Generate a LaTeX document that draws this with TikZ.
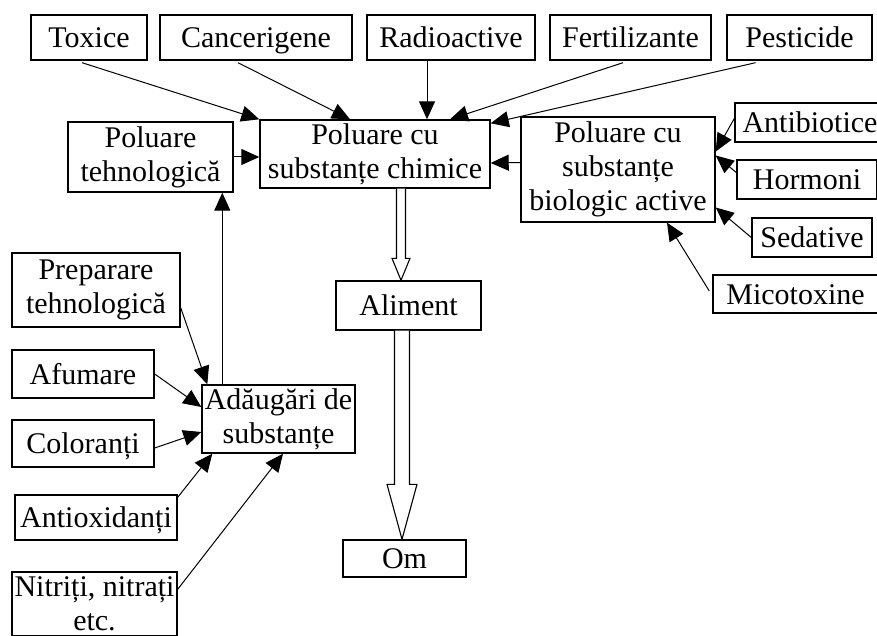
\documentclass[tikz,border=0pt]{standalone}
\usepackage{fontspec}
\setmainfont{Liberation Serif}
\usetikzlibrary{positioning, arrows.meta, calc}
% open block arrow: top, tip, half shaft, half head, head length
\newcommand{\hollowarrow}[5]{\draw[line width=1.1pt, fill=white] ($(#1)+(-#3,0)$) -- ($(#2)+(-#3,-#5)$) -- ($(#2)+(-#4,-#5)$) -- (#2) -- ($(#2)+(#4,-#5)$) -- ($(#2)+(#3,-#5)$) -- ($(#1)+(#3,0)$);}

\begin{document}
\begin{tikzpicture}[x=1pt, y=-1pt, font=\fontsize{30}{34}\selectfont,
                    box/.style={shape=rectangle, draw, line width=1.4pt, inner sep=0pt, align=center},
                    one/.style={box, text height=26pt, text depth=6pt},
                    arr/.style={line width=1pt, -{Triangle[length=18pt, width=16pt]}}]
        \clip (0,0) rectangle (877,636);
        \fill[white] (0,0) rectangle (877,636);
        % sources on top
        \node[one, minimum width=116, minimum height=45] (tox) at (89,37.5) {Toxice};
        \node[one, minimum width=192, minimum height=45] (canc) at (256,37.5) {Cancerigene};
        \node[one, minimum width=168, minimum height=45] (radio) at (451,37.5) {Radioactive};
        \node[one, minimum width=161, minimum height=45] (fert) at (630.5,37.5) {Fertilizante};
        \node[one, minimum width=145, minimum height=45] (pest) at (799.5,37.5) {Pesticide};
        % middle row
        \node[box, minimum width=165, minimum height=70] (tehn) at (150.5,157) {Poluare\\tehnologică};
        \node[box, minimum width=230, minimum height=68] (chim) at (375,154) {Poluare cu\\substanțe chimice};
        \node[box, minimum width=194, minimum height=105] (bio) at (618,169.5) {Poluare cu\\substanțe\\biologic active};
        \node[one, minimum width=150, minimum height=39] (antib) at (810,122.5) {Antibiotice};
        \node[one, minimum width=140, minimum height=39] (horm) at (807,179.5) {Hormoni};
        \node[one, minimum width=120, minimum height=39] (sed) at (812,237.5) {Sedative};
        \node[one, minimum width=165, minimum height=38] (mico) at (795.5,294) {Micotoxine};
        % food chain
        \node[one, minimum width=145, minimum height=49] (alim) at (408.5,305.5) {Aliment};
        \node[one, minimum width=123, minimum height=37] (om) at (404.5,558.5) {Om};
        % additives
        \node[box, minimum width=168, minimum height=74] (prep) at (96,290) {Preparare\\tehnologică};
        \node[one, minimum width=142, minimum height=48] (afum) at (83,374) {Afumare};
        \node[one, minimum width=142, minimum height=47] (color) at (83,443.5) {Coloranți};
        \node[one, minimum width=162, minimum height=45] (antiox) at (96,517.5) {Antioxidanți};
        \node[box, minimum width=165, minimum height=64] (nitr) at (94.5,604) {Nitriți, nitrați\\etc.};
        \node[box, minimum width=153, minimum height=68] (adau) at (278.5,419) {Adăugări de\\substanțe};

        \draw[arr] ($(tox.south)+(-7,2)$) -- (chim.north west);
        \draw[arr] ($(canc.south)+(-18,2)$) -- ($(chim.north)+(-25,0)$);
        \draw[arr] ($(radio.south)+(-24,0)$) -- ($(chim.north)+(52,0)$);
        \draw[arr] ($(fert.south)+(-7.5,2)$) -- ($(chim.north)+(75,0)$);
        \draw[arr] ($(pest.south)+(-44,2)$) -- ($(chim.north east)+(0,4)$);
        \draw[arr] (tehn.east) -- (tehn.east -| chim.west);
        \draw[arr] ($(bio.west)+(0,-7)$) -- ($(chim.east)+(0,9)$);

        \draw[arr] ($(antib.west)+(0,-4)$) -- ($(bio.east)+(0,-18)$);
        \draw[arr] ($(horm.west)+(0,-7)$) -- ($(bio.east)+(0,-14)$);
        \draw[arr] (sed.west) -- ($(bio.east)+(0,38)$);
        \draw[arr] ($(mico.west)+(-3,-3)$) -- ($(bio.south)+(49,0)$);

        \coordinate (up) at ($(adau.north west)+(21,0)$);
        \draw[arr] (up) -- (up |- tehn.south);
        \draw[arr] ($(prep.south east)+(0,-20)$) -- ($(adau.north west)+(6,0)$);
        \draw[arr] (afum.east) -- ($(adau.west)+(0,-12)$);
        \draw[arr] ($(color.east)+(0,4.5)$) -- ($(adau.west)+(0,13)$);
        \draw[arr] ($(antiox.north east)+(0,3)$) -- ($(adau.south west)+(11,0)$);
        \draw[arr] ($(nitr.north east)+(0,18)$) -- ($(adau.south)+(4.5,0)$);

        % open arrows down the chain
        \coordinate (a1) at ($(chim.south)+(26,0)$);
        \coordinate (a1t) at (a1 |- alim.north);
        \hollowarrow{a1}{a1t}{4.5}{9}{22}
        \coordinate (a2) at ($(alim.south)+(-6.5,0)$);
        \coordinate (a2t) at (a2 |- om.north);
        \hollowarrow{a2}{a2t}{7.5}{15}{55}
\end{tikzpicture}
\end{document}
